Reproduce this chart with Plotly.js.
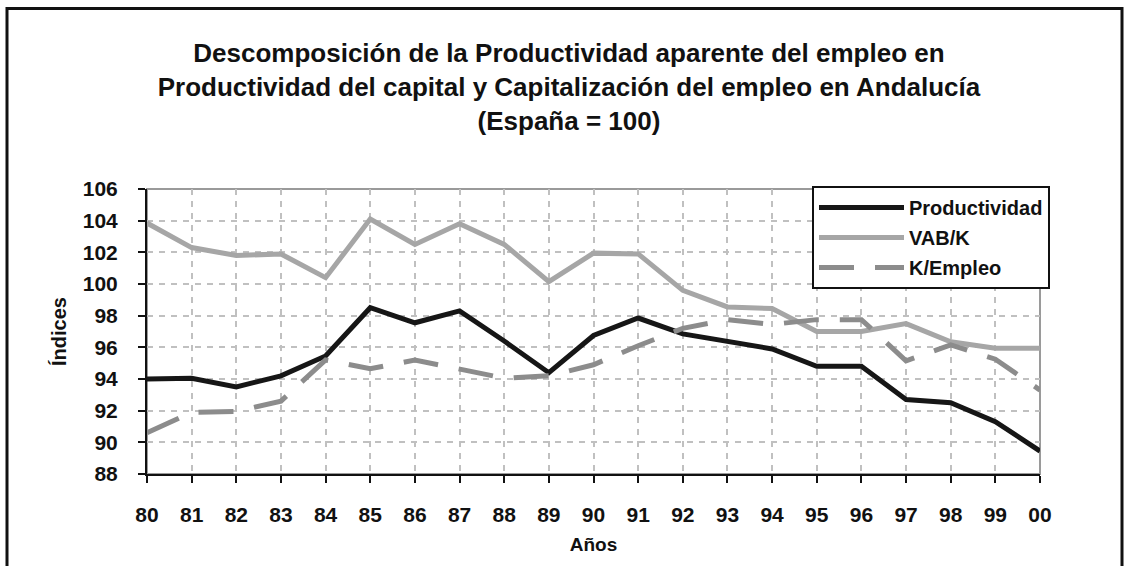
<!DOCTYPE html>
<html>
<head>
<meta charset="utf-8">
<script src="https://cdn.plot.ly/plotly-3.0.1.min.js"></script>
<style>
  html, body { margin: 0; padding: 0; background: #fff; }
  #chart { width: 1128px; height: 566px; }
</style>
</head>
<body>
<div id="chart"></div>
<script>
// ---- data ----
const years = ["80","81","82","83","84","85","86","87","88","89","90","91","92","93","94","95","96","97","98","99","00"];
const productividad = [94.0, 94.05, 93.5, 94.2, 95.45, 98.5, 97.55, 98.3, 96.4, 94.4, 96.75, 97.85, 96.85, 96.35, 95.9, 94.8, 94.8, 92.7, 92.5, 91.3, 89.45];
const vabK = [103.85, 102.3, 101.8, 101.9, 100.4, 104.1, 102.5, 103.8, 102.5, 100.15, 101.95, 101.9, 99.6, 98.55, 98.45, 97.0, 97.0, 97.5, 96.35, 95.95, 95.95];
const kEmpleo = [90.6, 91.9, 91.95, 92.6, 95.2, 94.65, 95.2, 94.65, 94.05, 94.2, 94.9, 96.1, 97.2, 97.75, 97.45, 97.75, 97.75, 95.15, 96.15, 95.25, 93.3];
const seriesNames = ["Productividad", "VAB/K", "K/Empleo"];
const yTicks = [88, 90, 92, 94, 96, 98, 100, 102, 104, 106];
const titleText = "Descomposición de la Productividad aparente del empleo en<br>Productividad del capital y Capitalización del empleo en Andalucía<br>(España = 100)";

// ---- layout geometry ----
const W = 1128, H = 566;
const M = { l: 147, r: 88, t: 189, b: 92 };
const PW = W - M.l - M.r, PH = H - M.t - M.b;
const px2x = px => (px - M.l) / PW;
const py2y = py => (H - M.b - py) / PH;
const FONT = "Arial, 'Liberation Sans', Helvetica, sans-serif";

const traces = [
  { x: years, y: productividad, name: seriesNames[0], type: "scatter", mode: "lines",
    legendgroup: "a", line: { color: "#161616", width: 5 } },
  { x: years, y: vabK, name: seriesNames[1], type: "scatter", mode: "lines",
    legendgroup: "b", line: { color: "#a6a6a6", width: 5 } },
  { x: years, y: kEmpleo, name: seriesNames[2], type: "scatter", mode: "lines",
    legendgroup: "c", line: { color: "#8c8c8c", width: 5, dash: "35px,21px" } }
];

const layout = {
  width: W, height: H,
  margin: M,
  paper_bgcolor: "#ffffff",
  plot_bgcolor: "#ffffff",
  font: { family: FONT, color: "#111", weight: "bold" },
  title: {
    text: titleText,
    font: { family: FONT, size: 26, color: "#111", weight: "bold" },
    x: 0.5044, xref: "container", xanchor: "center",
    y: 1 - 62 / H, yref: "container", yanchor: "top"
  },
  xaxis: {
    type: "category",
    range: [0, years.length - 1],
    showline: true, linecolor: "#111", linewidth: 2,
    ticks: "outside", ticklen: 7, tickwidth: 2, tickcolor: "#111",
    ticklabelstandoff: 14,
    tickfont: { family: FONT, size: 21, color: "#111", weight: "bold" },
    showgrid: true, gridcolor: "#c0c0c0", gridwidth: 2, griddash: "6px,6px",
    zeroline: false,
    title: { text: "Años", standoff: 12, font: { family: FONT, size: 19, color: "#111", weight: "bold" } }
  },
  yaxis: {
    range: [88, 106],
    tickvals: yTicks,
    showline: true, linecolor: "#111", linewidth: 2,
    ticks: "outside", ticklen: 7, tickwidth: 2, tickcolor: "#111",
    ticklabelstandoff: 16,
    tickfont: { family: FONT, size: 21, color: "#111", weight: "bold" },
    showgrid: true, gridcolor: "#c0c0c0", gridwidth: 2, griddash: "6px,6px",
    zeroline: false,
    title: { text: "Índices", standoff: 11, font: { family: FONT, size: 20, color: "#111", weight: "bold" } }
  },
  showlegend: true,
  legend: {
    x: px2x(812), xanchor: "left", xref: "paper",
    y: py2y(186), yanchor: "top", yref: "paper",
    bgcolor: "#ffffff", bordercolor: "#111", borderwidth: 2,
    font: { family: FONT, size: 20, color: "#111", weight: "bold" },
    itemwidth: 85, tracegroupgap: 1, traceorder: "grouped"
  },
  shapes: [
    // grey border of plot area (top / right)
    { type: "rect", xref: "paper", yref: "paper", x0: 0, x1: 1, y0: 0, y1: 1,
      line: { color: "#9a9a9a", width: 2 }, layer: "below" },
    // outer frame of the picture
    { type: "rect", xref: "paper", yref: "paper",
      x0: px2x(7), x1: px2x(1122), y0: py2y(8.5), y1: py2y(580),
      line: { color: "#111", width: 3 }, fillcolor: "rgba(0,0,0,0)" }
  ]
};

Plotly.newPlot("chart", traces, layout, { displayModeBar: false, responsive: false });
</script>
</body>
</html>
